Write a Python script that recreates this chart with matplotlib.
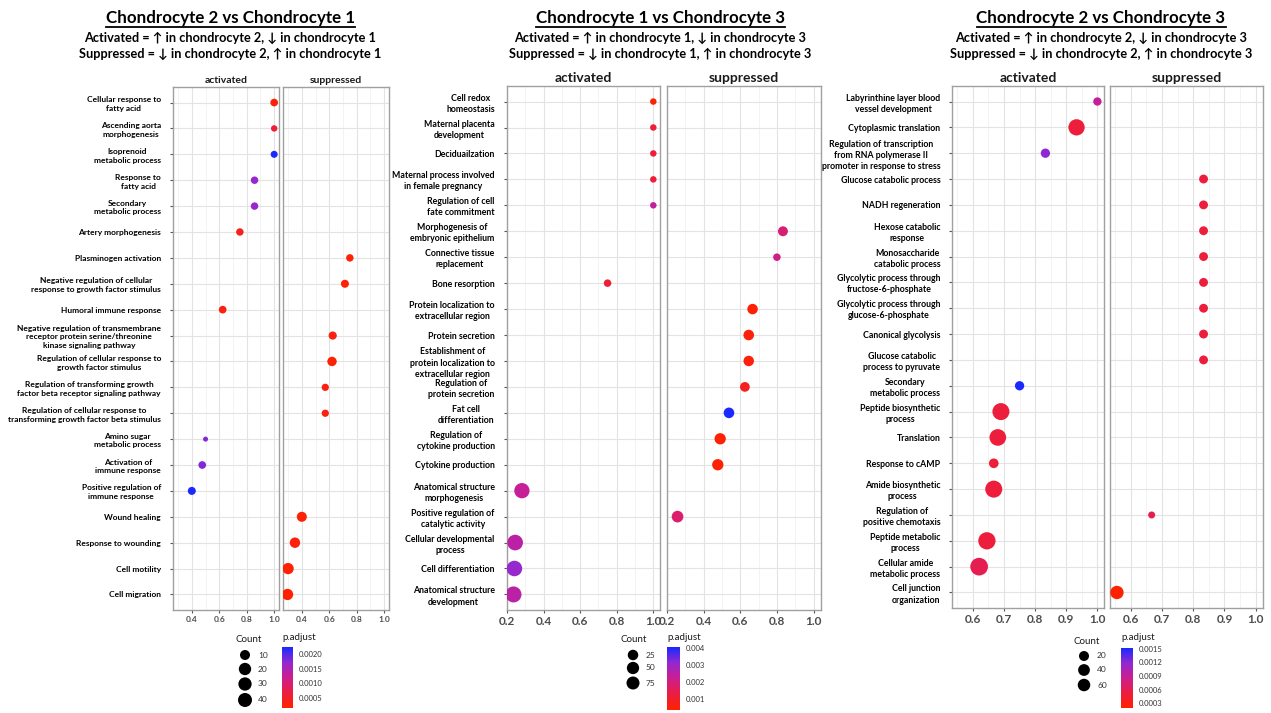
import numpy as np
import matplotlib
matplotlib.use("Agg")
import matplotlib.pyplot as plt
from matplotlib.colors import LinearSegmentedColormap, Normalize
from matplotlib.lines import Line2D

W, H = 1271, 713
FONT = ['Lato', 'DejaVu Sans']
plt.rcParams['font.family'] = FONT

# ---------------- Chondrocyte 2 vs Chondrocyte 1 ----------------
p1_terms = [
    "Cellular response to\nfatty acid",
    "Ascending aorta\nmorphogenesis",
    "Isoprenoid\nmetabolic process",
    "Response to\nfatty acid",
    "Secondary\nmetabolic process",
    "Artery morphogenesis",
    "Plasminogen activation",
    "Negative regulation of cellular\nresponse to growth factor stimulus",
    "Humoral immune response",
    "Negative regulation of transmembrane\nreceptor protein serine/threonine\nkinase signaling pathway",
    "Regulation of cellular response to\ngrowth factor stimulus",
    "Regulation of transforming growth\nfactor beta receptor signaling pathway",
    "Regulation of cellular response to\ntransforming growth factor beta stimulus",
    "Amino sugar\nmetabolic process",
    "Activation of\nimmune response",
    "Positive regulation of\nimmune response",
    "Wound healing",
    "Response to wounding",
    "Cell motility",
    "Cell migration",
]
p1_side = ["A", "A", "A", "A", "A", "A", "S", "S", "A", "S",
           "S", "S", "S", "A", "A", "A", "S", "S", "S", "S"]
p1_ratio = [1.0, 1.0, 1.0, 0.857, 0.857, 0.75, 0.75, 0.714, 0.625, 0.625,
            0.62, 0.571, 0.571, 0.5, 0.476, 0.4, 0.4, 0.35, 0.3, 0.296]
p1_count = [10, 5, 7, 9, 9, 9, 9, 12, 10, 13,
            22, 8, 8, 3, 10, 12, 28, 32, 42, 42]
p1_padj = [0.00025, 0.0006, 0.00224, 0.0017, 0.0017, 0.0004, 0.0002, 0.0002, 0.0003, 0.0003,
           0.0002, 0.0003, 0.0003, 0.0018, 0.0018, 0.00224, 0.0002, 0.00025, 0.00016, 0.00016]

# ---------------- Chondrocyte 1 vs Chondrocyte 3 ----------------
p2_terms = [
    "Cell redox\nhomeostasis",
    "Maternal placenta\ndevelopment",
    "Deciduailzation",
    "Maternal process involved\nin female pregnancy",
    "Regulation of cell\nfate commitment",
    "Morphogenesis of\nembryonic epithelium",
    "Connective tissue\nreplacement",
    "Bone resorption",
    "Protein localization to\nextracellular region",
    "Protein secretion",
    "Establishment of\nprotein localization to\nextracellular region",
    "Regulation of\nprotein secretion",
    "Fat cell\ndifferentiation",
    "Regulation of\ncytokine production",
    "Cytokine production",
    "Anatomical structure\nmorphogenesis",
    "Positive regulation of\ncatalytic activity",
    "Cellular developmental\nprocess",
    "Cell differentiation",
    "Anatomical structure\ndevelopment",
]
p2_side = ["A", "A", "A", "A", "A", "S", "S", "A", "S", "S",
           "S", "S", "S", "S", "S", "A", "S", "A", "A", "A"]
p2_ratio = [1.0, 1.0, 1.0, 1.0, 1.0, 0.833, 0.8, 0.75, 0.667, 0.646,
            0.646, 0.625, 0.538, 0.49, 0.477, 0.282, 0.257, 0.245, 0.241, 0.236]
p2_count = [5, 5, 5, 5, 5, 16, 6, 6, 20, 21,
            20, 15, 21, 27, 27, 78, 30, 84, 82, 90]
p2_padj = [0.00035, 0.0012, 0.0012, 0.0012, 0.0024, 0.0019, 0.0021, 0.0012, 0.0004, 0.0005,
           0.0005, 0.0008, 0.00406, 0.0004, 0.0004, 0.0023, 0.0018, 0.0025, 0.0031, 0.0025]

# ---------------- Chondrocyte 2 vs Chondrocyte 3 ----------------
p3_terms = [
    "Labyrinthine layer blood\nvessel development",
    "Cytoplasmic translation",
    "Regulation of transcription\nfrom RNA polymerase II\npromoter in response to stress",
    "Glucose catabolic process",
    "NADH regeneration",
    "Hexose catabolic\nresponse",
    "Monosaccharide\ncatabolic process",
    "Glycolytic process through\nfructose-6-phosphate",
    "Glycolytic process through\nglucose-6-phosphate",
    "Canonical glycolysis",
    "Glucose catabolic\nprocess to pyruvate",
    "Secondary\nmetabolic process",
    "Peptide biosynthetic\nprocess",
    "Translation",
    "Response to cAMP",
    "Amide biosynthetic\nprocess",
    "Regulation of\npositive chemotaxis",
    "Peptide metabolic\nprocess",
    "Cellular amide\nmetabolic process",
    "Cell junction\norganization",
]
p3_side = ["A", "A", "A", "S", "S", "S", "S", "S", "S", "S",
           "S", "A", "A", "A", "A", "A", "S", "A", "A", "S"]
p3_ratio = [1.0, 0.933, 0.833, 0.833, 0.833, 0.833, 0.833, 0.833, 0.833, 0.833,
            0.833, 0.75, 0.69, 0.68, 0.667, 0.667, 0.667, 0.645, 0.62, 0.556]
p3_count = [6, 54, 8, 7, 7, 7, 7, 7, 7, 7,
            7, 8, 62, 58, 9, 62, 5, 65, 70, 28]
p3_padj = [0.0009, 0.0005, 0.0012, 0.0005, 0.0005, 0.0005, 0.0005, 0.0005, 0.0005, 0.0005,
           0.0005, 0.00152, 0.0005, 0.0005, 0.0005, 0.0005, 0.0006, 0.0005, 0.0006, 0.00019]

titles = ["Chondrocyte 2 vs Chondrocyte 1",
          "Chondrocyte 1 vs Chondrocyte 3",
          "Chondrocyte 2 vs Chondrocyte 3"]
subtitles = [
    ("Activated = \u2191 in chondrocyte 2, \u2193 in chondrocyte 1",
     "Suppressed = \u2193 in chondrocyte 2, \u2191 in chondrocyte 1"),
    ("Activated = \u2191 in chondrocyte 1, \u2193 in chondrocyte 3",
     "Suppressed = \u2193 in chondrocyte 1, \u2191 in chondrocyte 3"),
    ("Activated = \u2191 in chondrocyte 2, \u2193 in chondrocyte 3",
     "Suppressed = \u2193 in chondrocyte 2, \u2191 in chondrocyte 3"),
]
legend_counts = [[10, 20, 30, 40], [25, 50, 75], [20, 40, 60]]
cbar_ticks = [[0.0005, 0.0010, 0.0015, 0.0020],
              [0.001, 0.002, 0.003, 0.004],
              [0.0003, 0.0006, 0.0009, 0.0012, 0.0015]]
cbar_fmt = ["{:.4f}", "{:.3f}", "{:.4f}"]

# red -> blue gradient through crimson / magenta / violet
cmap = LinearSegmentedColormap.from_list(
    "padj", ["#FF2200", "#EC1E40", "#CC1E90", "#9428D0", "#1A2AFF"])


def px_box(x0, y0, x1, y1):
    return [x0 / W, 1 - y1 / H, (x1 - x0) / W, (y1 - y0) / H]


def dot_size(count, cmin, cmax, dmin, dmax):
    c = np.asarray(count, dtype=float)
    d = dmin + (dmax - dmin) * np.sqrt((c - cmin) / (cmax - cmin))
    return (d * 0.72) ** 2  # pixel diameter -> points^2 at 100 dpi


fig = plt.figure(figsize=(W / 100, H / 100), dpi=100)

panels = [
    dict(terms=p1_terms, side=p1_side, ratio=p1_ratio, count=p1_count, padj=p1_padj,
         act=(172.7, 279), sup=(282.7, 389), top=87, bot=610,
         major=[0.4, 0.6, 0.8, 1.0], minor=[0.3, 0.5, 0.7, 0.9],
         dmin=5.0, dmax=11.3, ylab=6.0, xlab=6.0, xbold=True, strip=7.5, sbold=True,
         cx=230, leg=dict(cnt_x=245, cnt_y=[655, 669, 684, 700], title=(249, 640),
                          cb=(282, 647, 293, 708), lmin=10, lmax=14)),
    dict(terms=p2_terms, side=p2_side, ratio=p2_ratio, count=p2_count, padj=p2_padj,
         act=(506.5, 660.3), sup=(666.7, 820.5), top=86, bot=610,
         major=[0.2, 0.4, 0.6, 0.8, 1.0], minor=[0.3, 0.5, 0.7, 0.9],
         dmin=6.5, dmax=16.0, ylab=6.3, xlab=8.5, xbold=True, strip=10, sbold=True,
         cx=660, leg=dict(cnt_x=633, cnt_y=[655, 668, 683], title=(634, 640),
                          cb=(667, 647, 680, 710), lmin=10.5, lmax=13)),
    dict(terms=p3_terms, side=p3_side, ratio=p3_ratio, count=p3_count, padj=p3_padj,
         act=(952.3, 1104.3), sup=(1110, 1262.7), top=86, bot=608,
         major=[0.6, 0.7, 0.8, 0.9, 1.0], minor=[0.55, 0.65, 0.75, 0.85, 0.95],
         dmin=7.0, dmax=17.7, ylab=6.3, xlab=8.5, xbold=True, strip=10, sbold=True,
         cx=1101, leg=dict(cnt_x=1084, cnt_y=[656, 670, 685], title=(1087, 641),
                           cb=(1121, 648, 1133, 708), lmin=10, lmax=12.5)),
]

title_texts = []
for k, p in enumerate(panels):
    ratio = np.array(p["ratio"])
    count = np.array(p["count"])
    padj = np.array(p["padj"])
    side = np.array(p["side"])
    n = len(p["terms"])
    ypos = np.arange(n)
    lo, hi = ratio.min(), ratio.max()
    xlim = (lo - 0.05 * (hi - lo), hi + 0.05 * (hi - lo))
    norm = Normalize(vmin=padj.min(), vmax=padj.max())
    sizes = dot_size(count, count.min(), count.max(), p["dmin"], p["dmax"])

    for j, (lab, (x0, x1)) in enumerate([("activated", p["act"]), ("suppressed", p["sup"])]):
        ax = fig.add_axes(px_box(x0, p["top"], x1, p["bot"]))
        m = side == ("A" if j == 0 else "S")
        ax.scatter(ratio[m], ypos[m], s=sizes[m], c=padj[m], cmap=cmap, norm=norm,
                   linewidths=0, zorder=3)
        ax.set_xlim(*xlim)
        ax.set_ylim(n - 1 + 0.6, -0.6)
        ax.set_xticks(p["major"])
        ax.set_xticks(p["minor"], minor=True)
        ax.set_xticklabels([f"{v:.1f}" for v in p["major"]],
                           fontsize=p["xlab"], color="#4D4D4D",
                           fontweight="bold" if p["xbold"] else "normal")
        ax.set_yticks(ypos)
        if j == 0:
            ax.set_yticklabels(p["terms"], fontsize=p["ylab"], fontweight="bold",
                               multialignment="center", color="black",
                               linespacing=1.3)
            ax.tick_params(axis="y", length=2.5, color="#555555", pad=6)
        else:
            ax.set_yticklabels([])
            ax.tick_params(axis="y", length=0)
        ax.tick_params(axis="x", length=2.5, color="#555555", pad=2)
        ax.tick_params(axis="x", which="minor", length=0)
        ax.grid(True, which="major", color="#E3E3E3", lw=0.8, zorder=0)
        ax.grid(True, which="minor", axis="x", color="#EFEFEF", lw=0.5, zorder=0)
        ax.set_axisbelow(True)
        for sp in ax.spines.values():
            sp.set_color("#A0A0A0")
            sp.set_linewidth(1.0)
        ax.set_title(lab, fontsize=p["strip"], pad=3, color="#1A1A1A",
                     fontweight="bold" if p["sbold"] else "normal")

    # panel headings
    t = fig.text(p["cx"] / W, 1 - 18 / H, titles[k], ha="center", va="center",
                 fontsize=12.2, fontweight="bold")
    title_texts.append(t)
    fig.text(p["cx"] / W, 1 - 37.5 / H, subtitles[k][0], ha="center", va="center",
             fontsize=9.2, fontweight="bold", family=FONT)
    fig.text(p["cx"] / W, 1 - 53.5 / H, subtitles[k][1], ha="center", va="center",
             fontsize=9.2, fontweight="bold", family=FONT)

    # Count legend
    lg = p["leg"]
    lc = np.array(legend_counts[k], dtype=float)
    ls = dot_size(lc, lc.min(), lc.max(), lg["lmin"], lg["lmax"])
    lax = fig.add_axes([0, 0, 1, 1], zorder=-1)
    lax.set_xlim(0, W)
    lax.set_ylim(H, 0)
    lax.axis("off")
    lax.scatter([lg["cnt_x"]] * len(lc), lg["cnt_y"], s=ls, color="black", linewidths=0)
    for v, yy in zip(legend_counts[k], lg["cnt_y"]):
        lax.text(lg["cnt_x"] + 13, yy, str(v), fontsize=6, va="center", color="#333333")
    lax.text(lg["title"][0], lg["title"][1], "Count", fontsize=7, ha="center",
             va="center", color="#1A1A1A")

    # p.adjust colour bar
    bx0, by0, bx1, by1 = lg["cb"]
    cax = fig.add_axes(px_box(bx0, by0, bx1, by1))
    grad = np.linspace(norm.vmin, norm.vmax, 200).reshape(-1, 1)
    cax.imshow(grad, aspect="auto", cmap=cmap, norm=norm, origin="lower",
               extent=(0, 1, norm.vmin, norm.vmax))
    cax.set_xticks([])
    cax.yaxis.tick_right()
    cax.set_yticks(cbar_ticks[k])
    cax.set_yticklabels([cbar_fmt[k].format(v) for v in cbar_ticks[k]],
                        fontsize=5.5, color="#333333")
    cax.tick_params(axis="y", length=2, color="white", pad=2)
    for sp in cax.spines.values():
        sp.set_visible(False)
    fig.text(bx0 / W, 1 - (by0 - 10) / H, "p.adjust", fontsize=7,
             ha="left", va="center", color="#1A1A1A")

# underline the panel headings
fig.canvas.draw()
r = fig.canvas.get_renderer()
for t in title_texts:
    bb = t.get_window_extent(renderer=r)
    yline = bb.y0 - 1
    fig.add_artist(Line2D([bb.x0 / W, bb.x1 / W], [yline / H, yline / H],
                          transform=fig.transFigure, color="black", lw=1.3))

fig.savefig("out.png", dpi=100)
